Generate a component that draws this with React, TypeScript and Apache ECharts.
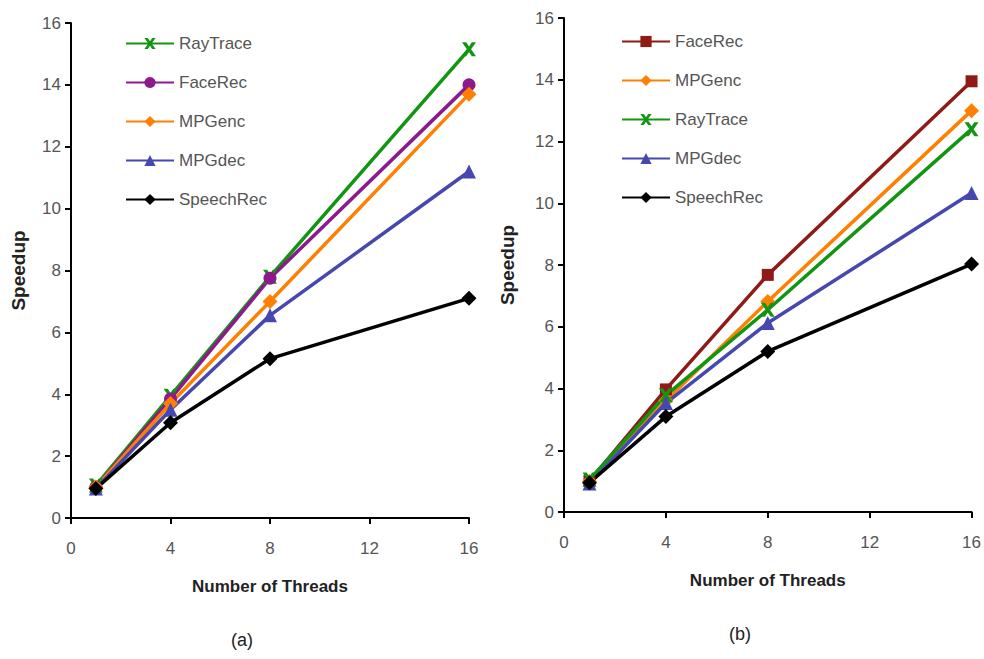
import React, { useEffect, useRef } from "react";
import * as echarts from "echarts";

const threads = [1, 4, 8, 16];
const xTicks = [0, 4, 8, 12, 16];

// Chart (a)
const aRayTrace = [1.05, 3.95, 7.8, 15.15];
const aFaceRec = [1.0, 3.85, 7.75, 14.0];
const aMPGenc = [1.0, 3.7, 7.0, 13.7];
const aMPGdec = [0.95, 3.5, 6.55, 11.2];
const aSpeechRec = [0.95, 3.08, 5.15, 7.1];

// Chart (b)
const bFaceRec = [1.0, 3.97, 7.68, 13.95];
const bMPGenc = [1.0, 3.6, 6.82, 13.0];
const bRayTrace = [1.05, 3.78, 6.55, 12.4];
const bMPGdec = [0.92, 3.53, 6.12, 10.33];
const bSpeechRec = [0.95, 3.09, 5.2, 8.03];

const legendA = ["RayTrace (a)", "FaceRec (a)", "MPGenc (a)", "MPGdec (a)", "SpeechRec (a)"];
const legendB = ["FaceRec (b)", "MPGenc (b)", "RayTrace (b)", "MPGdec (b)", "SpeechRec (b)"];

const X_PATH = "path://M0,0 L3,0 L5,3 L7,0 L10,0 L6.5,5 L10,10 L7,10 L5,7 L3,10 L0,10 L3.5,5 Z";

const GREEN = "#129612";
const PURPLE = "#8c1a8c";
const ORANGE = "#ff8000";
const BLUE = "#4747b0";
const DARKRED = "#8f1a16";
const BLACK = "#000000";

const FONT = "Liberation Sans, Arial, sans-serif";

function pts(vals: number[]) {
  return threads.map((t, i) => [t, vals[i]]);
}

function mk(name: string, vals: number[], color: string, symbol: string, size: number, idx: number) {
  return {
    name,
    type: "line",
    xAxisIndex: idx,
    yAxisIndex: idx,
    data: pts(vals),
    symbol,
    symbolSize: size,
    lineStyle: { color, width: 3.5 },
    itemStyle: { color, borderWidth: 0 },
    emphasis: { disabled: true },
  };
}

export default function App() {
  const ref = useRef<HTMLDivElement>(null);
  useEffect(() => {
    if (!ref.current) return;
    const chart = echarts.init(ref.current, undefined, { renderer: "svg" });
    const axisLabel = { color: "#555", fontSize: 17, fontFamily: FONT };
    const mkX = (gi: number) => ({
      type: "value",
      gridIndex: gi,
      min: 0,
      max: 16,
      interval: 4,
      name: "Number of Threads",
      nameLocation: "middle",
      nameGap: 60,
      nameTextStyle: { color: "#222", fontSize: 17, fontWeight: "bold", fontFamily: FONT },
      axisLine: { lineStyle: { color: "#000", width: 2 } },
      axisTick: { show: true, length: 6, lineStyle: { color: "#000", width: 2 } },
      axisLabel: { ...axisLabel, margin: 22 },
      splitLine: { show: false },
    });
    const mkY = (gi: number, gap: number) => ({
      type: "value",
      gridIndex: gi,
      min: 0,
      max: 16,
      interval: 2,
      name: "Speedup",
      nameLocation: "middle",
      nameRotate: 90,
      nameGap: gap,
      nameTextStyle: { color: "#222", fontSize: 19, fontWeight: "bold", fontFamily: FONT },
      axisLine: { show: true, lineStyle: { color: "#000", width: 2 } },
      axisTick: { show: true, length: 6, lineStyle: { color: "#000", width: 2 } },
      axisLabel: { ...axisLabel, margin: 10 },
      splitLine: { show: false },
    });
    const legendCommon = {
      orient: "vertical",
      padding: 0,
      itemWidth: 48,
      itemHeight: 14,
      itemGap: 22,
      textStyle: { color: "#555", fontSize: 17, fontFamily: FONT },
      formatter: (n: string) => n.replace(/ \([ab]\)$/, ""),
      selectedMode: false,
    };
    chart.setOption({
      animation: false,
      backgroundColor: "#ffffff",
      grid: [
        { left: 71, top: 23, width: 398, height: 495 },
        { left: 564, top: 18, width: 408, height: 494 },
      ],
      xAxis: [mkX(0), mkX(1)],
      yAxis: [mkY(0, 43), mkY(1, 47)],
      legend: [
        { ...legendCommon, data: legendA, left: 125, top: 35 },
        { ...legendCommon, data: legendB, left: 621, top: 33 },
      ],
      graphic: [
        { type: "text", left: 231, top: 631, style: { text: "(a)", fontSize: 18, fill: "#222", fontFamily: FONT } },
        { type: "text", left: 729, top: 625, style: { text: "(b)", fontSize: 18, fill: "#222", fontFamily: FONT } },
      ],
      series: [
        mk("RayTrace (a)", aRayTrace, GREEN, X_PATH, 14, 0),
        mk("FaceRec (a)", aFaceRec, PURPLE, "circle", 13, 0),
        mk("MPGenc (a)", aMPGenc, ORANGE, "diamond", 15, 0),
        mk("MPGdec (a)", aMPGdec, BLUE, "triangle", 14, 0),
        mk("SpeechRec (a)", aSpeechRec, BLACK, "diamond", 15, 0),
        mk("FaceRec (b)", bFaceRec, DARKRED, "rect", 12, 1),
        mk("MPGenc (b)", bMPGenc, ORANGE, "diamond", 15, 1),
        mk("RayTrace (b)", bRayTrace, GREEN, X_PATH, 14, 1),
        mk("MPGdec (b)", bMPGdec, BLUE, "triangle", 14, 1),
        mk("SpeechRec (b)", bSpeechRec, BLACK, "diamond", 15, 1),
      ],
    });
    return () => chart.dispose();
  }, []);
  return <div ref={ref} style={{ width: 984, height: 659, position: "absolute", left: 0, top: 0 }} />;
}
